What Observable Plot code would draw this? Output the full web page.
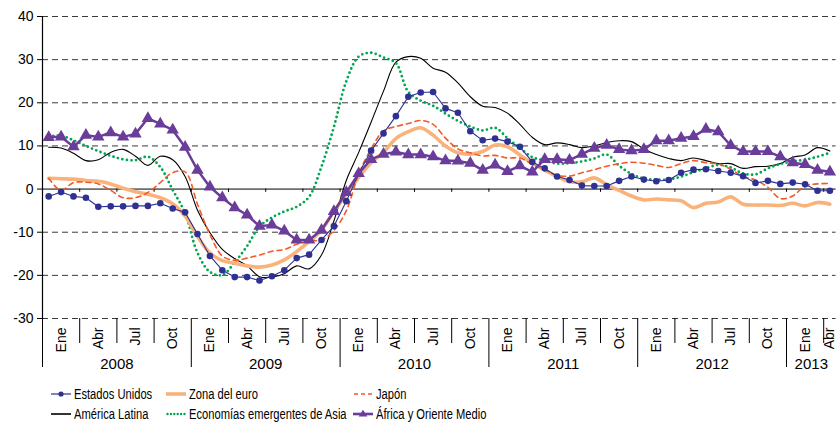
<!DOCTYPE html>
<html>
<head>
<meta charset="utf-8">
<script src="https://cdn.jsdelivr.net/npm/d3@7"></script>
<script src="https://cdn.jsdelivr.net/npm/@observablehq/plot@0.6"></script>
<style>
  html, body { margin: 0; padding: 0; background: #fff; }
  #wrap { width: 837px; }
  #leg { position: relative; width: 837px; height: 55px; }
  .it { position: absolute; display: flex; align-items: center; white-space: nowrap; color: #000; }
  .it svg { display: block; }
  .it span { display: inline-block; transform-origin: left center; }
</style>
</head>
<body>
<div id="wrap"><div id="chart"></div><div id="leg"></div></div>
<script>
// ---- Datos (variación interanual, %), enero 2008 – abril 2013 ----
const trimestres = ["Ene", "Abr", "Jul", "Oct"];
const anios = ["2008", "2009", "2010", "2011", "2012", "2013"];
const ticksY = [-30, -20, -10, 0, 10, 20, 30, 40];
const numMeses = 64;

const estadosUnidos = [
  -1.7, -0.7, -1.7, -2.0, -4.1, -4.0, -4.0, -3.9, -3.9, -3.3, -4.5, -5.4,
  -10.4, -15.5, -18.8, -20.4, -20.4, -21.2, -20.2, -18.8, -16.0, -15.2, -11.8, -8.6,
  -2.8, 3.6, 8.9, 12.9, 16.9, 21.4, 22.4, 22.5, 18.7, 17.7, 13.4, 11.3,
  11.7, 11.0, 9.8, 6.3, 4.8, 2.9, 2.1, 0.8, 0.7, 0.7, 1.9, 2.9,
  2.2, 1.8, 2.1, 3.8, 4.5, 4.6, 4.2, 3.8, 3.0, 1.4, 1.9, 1.2,
  1.5, 1.1, -0.4, -0.4
];
const zonaEuro = [
  2.5, 2.4, 2.3, 2.0, 1.8, 1.2, 0.2, -0.6, -1.2, -2.0, -3.4, -6.3,
  -11.0, -14.8, -16.6, -17.2, -17.8, -18.1, -17.6, -16.4, -14.5, -12.2, -9.5, -5.2,
  -1.2, 2.7, 6.1, 8.5, 11.7, 13.3, 14.2, 12.5, 10.0, 8.4, 8.1, 8.7,
  10.2, 9.8, 7.9, 6.0, 4.4, 2.9, 1.7, 1.7, 2.6, 1.0, -0.3, -1.6,
  -2.5, -2.3, -2.5, -2.7, -4.3, -3.3, -3.0, -1.8, -3.5, -3.7, -3.7, -3.8,
  -3.3, -3.9, -3.1, -3.5
];
const japon = [
  2.5, -0.3, 1.5, 1.6, 1.2, -0.3, -2.0, -2.0, -0.8, 1.5, 3.8, 4.0,
  -3.5, -10.5, -15.5, -16.5, -16.0, -15.3, -14.4, -14.0, -12.8, -12.0, -11.8, -9.6,
  -5.0, 3.5, 9.3, 13.5, 14.5, 15.2, 15.9, 15.0, 11.8, 9.3, 8.4, 7.7,
  7.8, 7.2, 7.2, 5.8, 4.5, 3.2, 3.0, 3.8, 4.5, 5.3, 5.9, 6.2,
  6.0, 5.5, 5.0, 5.9, 6.6, 6.1, 5.8, 4.6, 2.9, 2.1, 0.4, -2.2,
  -1.6, 0.7, 1.2, 1.3
];
const americaLatina = [
  9.7, 9.5, 8.3, 6.6, 6.8, 8.5, 9.2, 7.6, 5.5, 7.6, 6.8, 2.9,
  -4.9, -10.1, -14.0, -16.1, -17.8, -20.3, -20.4, -19.6, -17.8, -18.5, -15.3, -7.4,
  2.0, 8.5, 15.5, 22.7, 29.4, 30.7, 30.3, 28.0, 27.1, 24.6, 21.4, 19.2,
  18.9, 17.6, 15.0, 12.0, 10.3, 10.7, 10.3, 9.6, 10.0, 10.8, 11.2, 11.0,
  9.3, 8.0, 7.1, 6.6, 7.2, 6.6, 5.9, 5.9, 4.8, 5.2, 5.3, 5.9,
  7.4, 7.9, 9.6, 8.8
];
const economiasAsia = [
  12.2, 12.4, 11.3, 10.0, 8.8, 7.7, 6.9, 6.7, 7.5, 5.1, -0.2, -5.6,
  -14.8, -19.2, -19.9, -17.0, -13.2, -8.7, -6.6, -5.2, -4.1, -1.8, 5.2, 14.4,
  25.0, 30.7, 31.6, 30.5, 29.2, 22.5, 20.5, 19.3, 17.5, 15.8, 14.5, 13.6,
  14.2, 11.8, 9.5, 7.4, 6.6, 5.9, 6.0, 6.4, 7.1, 8.0, 5.4, 3.5,
  2.4, 2.2, 2.2, 2.9, 3.9, 4.8, 5.6, 5.0, 3.6, 3.4, 4.8, 5.8,
  6.4, 6.8, 7.5, 8.4
];
const africaOrienteMedio = [
  12.0, 12.1, 9.8, 12.5, 12.1, 13.1, 12.1, 12.8, 16.4, 15.1, 13.7, 9.7,
  4.4, 0.5, -2.0, -4.3, -6.0, -8.6, -8.3, -9.7, -11.8, -11.8, -9.5, -5.2,
  -0.8, 3.6, 6.9, 8.1, 8.6, 8.0, 8.0, 7.5, 6.6, 6.5, 6.0, 4.4,
  5.6, 4.1, 5.4, 4.0, 6.9, 6.9, 6.7, 8.1, 9.5, 10.2, 9.2, 8.9,
  9.2, 11.2, 11.2, 11.8, 12.2, 13.9, 13.3, 10.1, 8.7, 8.7, 8.7, 7.5,
  6.1, 5.7, 4.4, 4.0
];
const nombres = ["Estados Unidos", "Zona del euro", "Japón",
  "América Latina", "Economías emergentes de Asia", "África y Oriente Medio"];

// ---- Helpers ----
const filas = vals => vals.map((v, i) => ({ mes: i + 0.5, v }));
const inicioTrim = d3.range(0, numMeses, 3);
const centrosTrim = inicioTrim.map(s => (s + Math.min(s + 3, numMeses)) / 2);
const inicioAnio = d3.range(0, numMeses, 12);
const centrosAnio = inicioAnio.map(s => (s + Math.min(s + 12, numMeses)) / 2);
const limitesTrim = inicioTrim.filter(s => s % 12 !== 0);
const limitesTodos = inicioTrim.filter(s => s > 0);

function hasFont(name) {
  const c = document.createElement("canvas").getContext("2d");
  const t = "Estados Unidos mmmWWWiiil 2008";
  c.font = "20px monospace";
  const a = c.measureText(t).width;
  c.font = `20px '${name}', monospace`;
  return Math.abs(c.measureText(t).width - a) > 0.5;
}
const narrow = hasFont("Liberation Sans Narrow") ? "Liberation Sans Narrow"
  : (hasFont("Arial Narrow") ? "Arial Narrow" : null);
const baseFont = "'Liberation Sans', Arial, Helvetica, sans-serif";
const narrowFont = narrow ? `'${narrow}', ${baseFont}` : baseFont;

const C = {
  eu: "#2e3192", euro: "#fab27b", jp: "#f15a29",
  al: "#000000", asia: "#00a651", af: "#6a3d9a"
};

const plot = Plot.plot({
  width: 837,
  height: 372,
  marginTop: 16,
  marginBottom: 54,
  marginLeft: 42,
  marginRight: 1.4,
  x: { type: "linear", domain: [0, numMeses], range: [42, 42 + numMeses * 12.4], axis: null },
  y: { domain: [-30, 40], axis: null },
  style: { fontFamily: baseFont, fontSize: "14px", color: "#000", background: "#fff", overflow: "visible" },
  marks: [
    Plot.gridY(ticksY.filter(d => d !== 0), { stroke: "#3a3a3a", strokeOpacity: 1, strokeWidth: 1, strokeDasharray: "6,4" }),
    Plot.axisY({ ticks: ticksY, tickSize: 5, tickPadding: 4, label: null, fontSize: 14, stroke: "#000",
      tickFormat: d => String(d) }),
    Plot.ruleY([0], { stroke: "#000", strokeWidth: 1 }),
    Plot.ruleX(limitesTodos, { x: d => d, y1: 0, y2: -0.75, stroke: "#000" }),
    Plot.ruleX([0], { stroke: "#000", strokeWidth: 1.2 }),
    Plot.axisX({ ticks: limitesTrim, tickSize: 25, tickFormat: () => "", label: null, stroke: "#000" }),
    Plot.axisX({ ticks: inicioAnio, tickSize: 49, tickFormat: () => "", label: null, stroke: "#000" }),
    Plot.axisX({ ticks: centrosTrim, tickSize: 0, tickPadding: 9, tickRotate: -90,
      tickFormat: d => trimestres[Math.floor(d / 3) % 4], label: null, fontSize: 14 }),
    Plot.axisX({ ticks: centrosAnio, tickSize: 0, tickPadding: 40,
      tickFormat: d => anios[Math.floor(d / 12)], label: null, fontSize: 15, fontFamily: narrowFont }),

    Plot.line(filas(americaLatina), { x: "mes", y: "v", stroke: C.al, strokeWidth: 1.1, curve: "catmull-rom" }),
    Plot.line(filas(economiasAsia), { x: "mes", y: "v", stroke: C.asia, strokeWidth: 2.8, strokeDasharray: "0 4.6", strokeLinecap: "round", curve: "catmull-rom" }),
    Plot.line(filas(zonaEuro), { x: "mes", y: "v", stroke: C.euro, strokeWidth: 3.6, curve: "catmull-rom" }),
    Plot.line(filas(japon), { x: "mes", y: "v", stroke: C.jp, strokeWidth: 1.6, strokeDasharray: "5 4", curve: "catmull-rom" }),
    Plot.line(filas(estadosUnidos), { x: "mes", y: "v", stroke: C.eu, strokeWidth: 1.1 }),
    Plot.dot(filas(estadosUnidos), { x: "mes", y: "v", r: 3.3, fill: C.eu, stroke: "none" }),
    Plot.line(filas(africaOrienteMedio), { x: "mes", y: "v", stroke: C.af, strokeWidth: 2.5 }),
    Plot.dot(filas(africaOrienteMedio), { x: "mes", y: "v", symbol: "triangle", r: 4.6, fill: C.af, stroke: "none" })
  ]
});
document.getElementById("chart").appendChild(plot);

// ---- Leyenda ----
const legItems = [
  { n: 0, left: 51, top: 22, kind: "dot", color: C.eu },
  { n: 1, left: 166, top: 22, kind: "thick", color: C.euro },
  { n: 2, left: 353, top: 22, kind: "dash", color: C.jp },
  { n: 3, left: 51, top: 42, kind: "line", color: C.al },
  { n: 4, left: 166, top: 42, kind: "dots", color: C.asia },
  { n: 5, left: 353, top: 42, kind: "tri", color: C.af }
];
const leg = document.getElementById("leg");
for (const it of legItems) {
  const d = document.createElement("div");
  d.className = "it";
  d.style.left = it.left + "px";
  d.style.top = (it.top - 10) + "px";
  d.style.height = "20px";
  let sw = "";
  const w = 20;
  if (it.kind === "dot") sw = `<line x1="0" y1="10" x2="${w}" y2="10" stroke="${it.color}" stroke-width="1.2"/><circle cx="10" cy="10" r="2.6" fill="${it.color}"/>`;
  if (it.kind === "thick") sw = `<line x1="0" y1="10" x2="${w}" y2="10" stroke="${it.color}" stroke-width="3.6"/>`;
  if (it.kind === "dash") sw = `<line x1="1" y1="10" x2="${w}" y2="10" stroke="${it.color}" stroke-width="1.6" stroke-dasharray="4 3"/>`;
  if (it.kind === "line") sw = `<line x1="0" y1="10" x2="${w}" y2="10" stroke="${it.color}" stroke-width="1.6"/>`;
  if (it.kind === "dots") sw = `<line x1="1.5" y1="10" x2="${w}" y2="10" stroke="${it.color}" stroke-width="2.4" stroke-dasharray="0 3.4" stroke-linecap="round"/>`;
  if (it.kind === "tri") sw = `<line x1="0" y1="10" x2="${w}" y2="10" stroke="${it.color}" stroke-width="2.6"/><path d="M10,5.8L14.4,12.6H5.6Z" fill="${it.color}"/>`;
  const svg = `<svg width="${w}" height="20">${sw}</svg>`;
  const st = narrow ? `font-family:${narrowFont};font-size:15.5px;margin-left:3px;transform:scaleX(0.9);`
    : `font-family:${baseFont};font-size:15.5px;margin-left:3px;transform:scaleX(0.72);`;
  d.innerHTML = svg + `<span style="${st}">${nombres[it.n]}</span>`;
  leg.appendChild(d);
}
</script>
</body>
</html>
